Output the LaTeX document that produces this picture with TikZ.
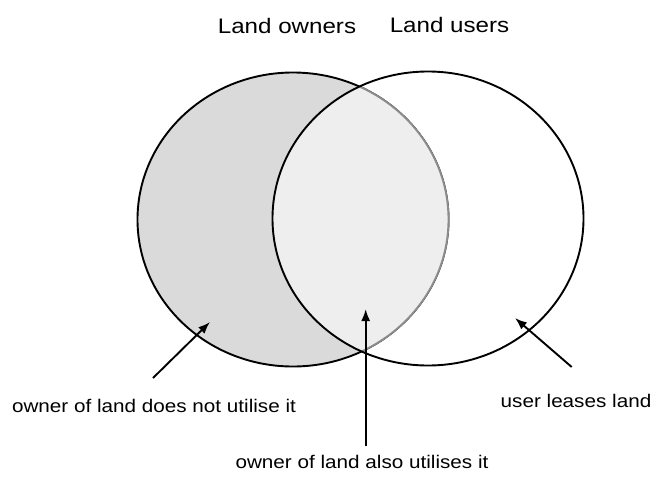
\documentclass[tikz,border=0pt]{standalone}
\usepackage{fontspec}
\usetikzlibrary{arrows.meta}
\newfontfamily\venntitlefont[FakeStretch=1.15]{Liberation Sans}
\newfontfamily\vennnotefont[FakeStretch=1.13]{Liberation Sans}
\definecolor{ownergray}{gray}{0.855}
\definecolor{sharedgray}{gray}{0.935}
\definecolor{rimgray}{gray}{0.55}

\begin{document}
\begin{tikzpicture}[x=1pt,y=-1pt,
  settitle/.style={anchor=base,inner sep=0pt,font=\venntitlefont\fontsize{21}{25}\selectfont},
  note/.style={anchor=base,inner sep=0pt,font=\vennnotefont\fontsize{18.3}{22}\selectfont},
  rim/.style={line width=1.9pt},
  pointer/.style={line width=1.9pt,-{Latex[length=12pt,width=9pt]}}]
\useasboundingbox (0,0) rectangle (656,477);

% Land owners set
\fill[ownergray] (293,219.5) ellipse [x radius=155.5,y radius=147];
\draw[rim] (293,219.5) ellipse [x radius=155.5,y radius=147];
% overlap, rim of owners shown in grey
\begin{scope}
  \clip (428,218.5) ellipse [x radius=155.5,y radius=147];
  \fill[sharedgray] (293,219.5) ellipse [x radius=155.5,y radius=147];
  \draw[rim,rimgray] (293,219.5) ellipse [x radius=155.5,y radius=147];
\end{scope}
% Land users set
\draw[rim] (428,218.5) ellipse [x radius=155.5,y radius=147];

\node[settitle] (owners) at (287,33) {Land owners};
\node[settitle] (users) at (449.5,32) {Land users};

% pointers into the three regions
\node[note] (notuse) at (154,412) {owner of land does not utilise it};
\node[note] (alsouse) at (362,468) {owner of land also utilises it};
\node[note] (lease) at (576,407) {user leases land};

\coordinate (notuse tail) at (153,378);
\coordinate (notuse tip) at (210,322);
\coordinate (alsouse tail) at (365.7,446);
\coordinate (alsouse tip) at (365.7,309);
\coordinate (lease tail) at (571.7,367);
\coordinate (lease tip) at (515,318);

\draw[pointer] (notuse tail) -- (notuse tip);
\draw[pointer] (alsouse tail) -- (alsouse tip);
\draw[pointer] (lease tail) -- (lease tip);
\end{tikzpicture}
\end{document}
